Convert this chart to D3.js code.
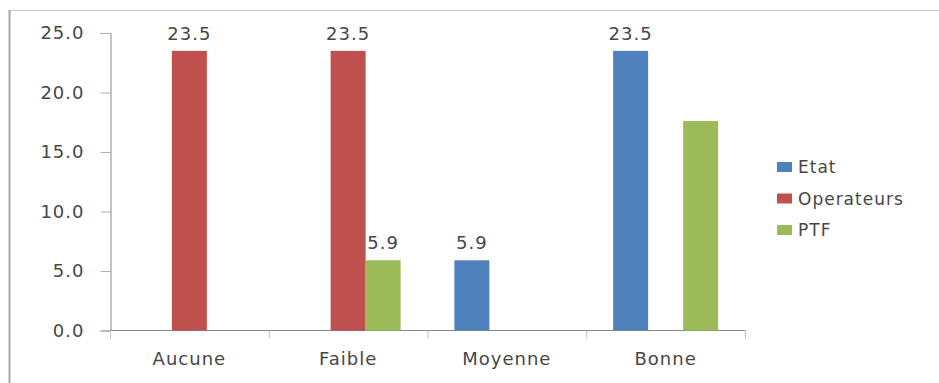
<!DOCTYPE html>
<html>
<head>
<meta charset="utf-8">
<script src="https://cdn.jsdelivr.net/npm/d3@7"></script>
<style>
  body { margin: 0; background: #fff; }
  text { font-family: "DejaVu Sans", sans-serif; fill: #474747; }
</style>
</head>
<body>
<div id="chart"></div>
<script>
var categories = ["Aucune", "Faible", "Moyenne", "Bonne"];
var series = ["Etat", "Operateurs", "PTF"];
var etat = [0, 0, 5.9, 23.5];
var operateurs = [23.5, 23.5, 0, 0];
var ptf = [0, 5.9, 0, 17.6];
var yTicks = [0, 5, 10, 15, 20, 25];
// no value label printed on this bar in the original
var hiddenLabels = [["PTF", "Bonne"]];

var colors = { "Etat": "#4F81BD", "Operateurs": "#C0504D", "PTF": "#9BBB59" };

var svgWidth = 939;
var svgHeight = 383;

var svg = d3.select("#chart")
  .append("svg")
  .attr("width", svgWidth)
  .attr("height", svgHeight);

// frame lines (top + left)
svg.append("line")
  .attr("x1", 9).attr("x2", svgWidth)
  .attr("y1", 10.5).attr("y2", 10.5)
  .attr("stroke", "#c8c8c8");
svg.append("line")
  .attr("x1", 9.5).attr("x2", 9.5)
  .attr("y1", 10).attr("y2", svgHeight)
  .attr("stroke", "#a6a6a6").attr("stroke-width", 2);

var rows = categories.map(function(c, i) {
  return { cat: c, "Etat": etat[i], "Operateurs": operateurs[i], "PTF": ptf[i] };
});

var xScale = d3.scaleBand()
  .domain(categories)
  .range([110, 745]);

var barW = 35;
var xInner = d3.scaleBand()
  .domain(series)
  .range([-barW * 1.5, barW * 1.5]);

var yScale = d3.scaleLinear()
  .domain([0, 25])
  .range([330.5, 33]);

// y axis
var leftAxis = d3.axisLeft(yScale)
  .tickValues(yTicks)
  .tickFormat(d3.format(".1f"))
  .tickSize(10)
  .tickPadding(16);

var yG = svg.append("g")
  .attr("transform", "translate(110.5,0)")
  .call(leftAxis);
yG.select(".domain").attr("stroke", "#868686");
yG.selectAll(".tick line").attr("stroke", "#b0b0b0");
yG.selectAll(".tick text")
  .style("font-size", "18px")
  .style("letter-spacing", "1px")
  .attr("fill", "#474747");

// x axis
var xG = svg.append("g")
  .attr("transform", "translate(0," + yScale(0) + ")");
xG.append("line")
  .attr("x1", 110).attr("x2", 745)
  .attr("stroke", "#868686");
var bounds = categories.map(function(c) { return xScale(c); }).concat([xScale.range()[1]]);
xG.selectAll("line.tk")
  .data(bounds)
  .enter()
  .append("line")
  .attr("class", "tk")
  .attr("x1", d => d + 0.5).attr("x2", d => d + 0.5)
  .attr("y1", 0).attr("y2", 8)
  .attr("stroke", "#c0c0c0");

svg.selectAll("text.cat")
  .data(categories)
  .enter()
  .append("text")
  .attr("class", "cat")
  .attr("x", d => xScale(d) + xScale.bandwidth() / 2)
  .attr("y", 365)
  .attr("text-anchor", "middle")
  .style("font-size", "18px")
  .style("letter-spacing", "1px")
  .text(d => d);

// bars
var groups = svg.selectAll("g.grp")
  .data(rows)
  .enter()
  .append("g")
  .attr("class", "grp")
  .attr("transform", d => "translate(" + (xScale(d.cat) + xScale.bandwidth() / 2) + ",0)");

groups.selectAll("rect")
  .data(d => series.map(s => ({ s: s, cat: d.cat, v: d[s] })).filter(o => o.v > 0))
  .enter()
  .append("rect")
  .attr("x", d => xInner(d.s))
  .attr("width", xInner.bandwidth())
  .attr("y", d => yScale(d.v))
  .attr("height", d => yScale(0) - yScale(d.v))
  .attr("fill", d => colors[d.s]);

groups.selectAll("text.val")
  .data(d => series.map(s => ({ s: s, cat: d.cat, v: d[s] }))
    .filter(o => o.v > 0 && !hiddenLabels.some(h => h[0] === o.s && h[1] === o.cat)))
  .enter()
  .append("text")
  .attr("class", "val")
  .attr("x", d => xInner(d.s) + xInner.bandwidth() / 2)
  .attr("y", d => yScale(d.v) - 11)
  .attr("text-anchor", "middle")
  .style("font-size", "18px")
  .style("letter-spacing", "1px")
  .text(d => d3.format(".1f")(d.v));

// legend
var legend = svg.append("g")
  .attr("transform", "translate(777,0)");
var legendY = d3.scalePoint()
  .domain(series)
  .range([167, 230]);

legend.selectAll("rect")
  .data(series)
  .enter()
  .append("rect")
  .attr("x", 0)
  .attr("y", d => legendY(d) - 5)
  .attr("width", 15)
  .attr("height", 10)
  .attr("fill", d => colors[d]);

legend.selectAll("text")
  .data(series)
  .enter()
  .append("text")
  .attr("x", 21)
  .attr("y", d => legendY(d) + 6)
  .style("font-size", "17px")
  .style("letter-spacing", "1px")
  .text(d => d);
</script>
</body>
</html>
